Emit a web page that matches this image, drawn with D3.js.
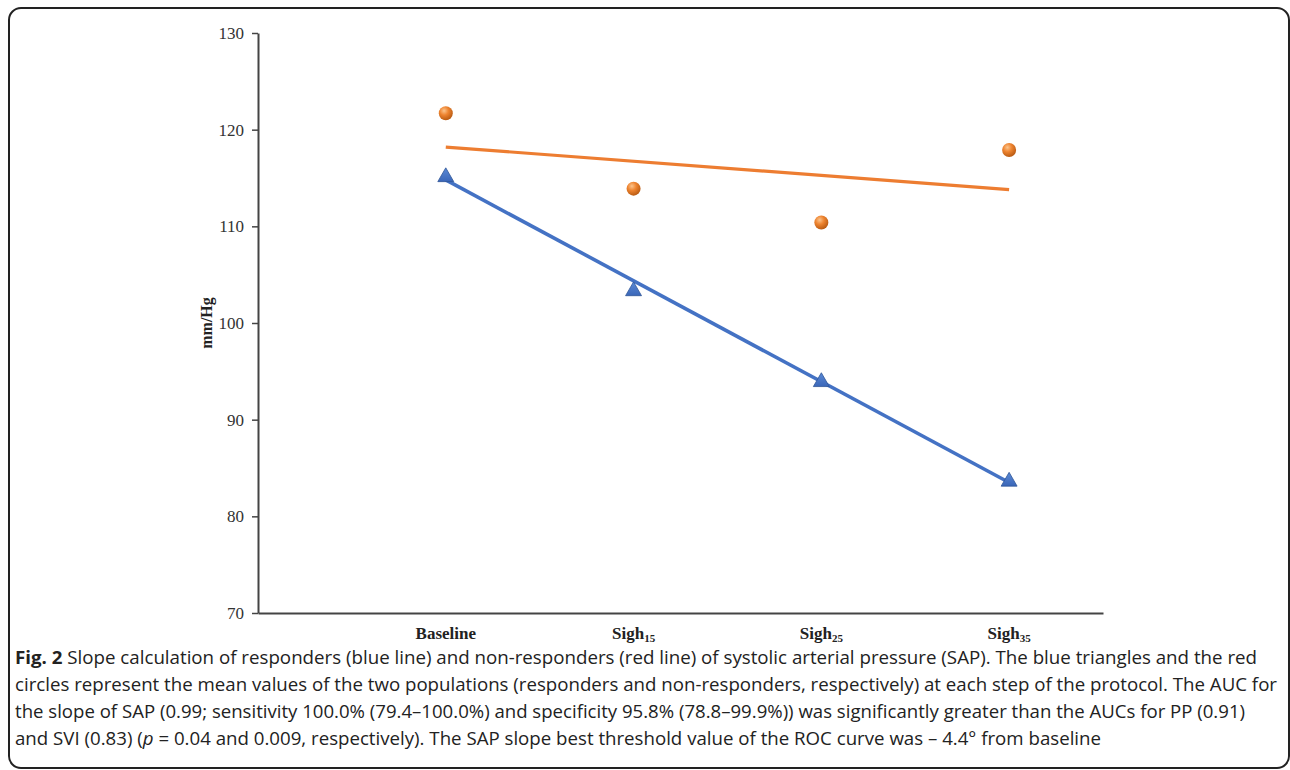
<!DOCTYPE html>
<html>
<head>
<meta charset="utf-8">
<script src="https://cdn.jsdelivr.net/npm/d3@7"></script>
<style>
  body { margin: 0; background: #fff; }
  svg { display: block; }
</style>
</head>
<body>
<div id="chart"></div>
<script>
// categories along the protocol, with their subscripts
var categories = ["Baseline", "Sigh", "Sigh", "Sigh"];
var subscripts = ["", "15", "25", "35"];

// mean SAP values
var responders = [115.1, 103.3, 93.9, 83.6];      // blue triangles
var nonResponders = [121.7, 113.9, 110.4, 117.9]; // orange circles

// trend line ends (Baseline, Sigh35)
var respTrend = [114.8, 83.5];
var nonRespTrend = [118.2, 113.8];

var yTicks = [70, 80, 90, 100, 110, 120, 130];

var captionLines = [
  [{t: "Fig. 2", b: true}, {t: " Slope calculation of responders (blue line) and non-responders (red line) of systolic arterial pressure (SAP). The blue triangles and the red"}],
  [{t: "circles represent the mean values of the two populations (responders and non-responders, respectively) at each step of the protocol. The AUC for"}],
  [{t: "the slope of SAP (0.99; sensitivity 100.0% (79.4\u2013100.0%) and specificity 95.8% (78.8\u201399.9%)) was significantly greater than the AUCs for PP (0.91)"}],
  [{t: "and SVI (0.83) ("}, {t: "p", i: true}, {t: " = 0.04 and 0.009, respectively). The SAP slope best threshold value of the ROC curve was \u2013 4.4\u00b0 from baseline"}]
];
var captionWidths = [1242, 1262, 1230, 1086];

var W = 1290, H = 770;
var svg = d3.select("#chart").append("svg")
    .attr("width", W)
    .attr("height", H);

// frame round the figure
svg.append("rect")
    .attr("x", 9).attr("y", 8)
    .attr("width", 1280).attr("height", 760)
    .attr("rx", 12)
    .attr("fill", "none")
    .attr("stroke", "#222")
    .attr("stroke-width", 2);

var x = d3.scaleLinear().domain([-1, 3.5]).range([258, 1103]);
var y = d3.scaleLinear().domain([70, 130]).range([613, 33]);

var defs = svg.append("defs");
var ball = defs.append("radialGradient").attr("id", "ball")
    .attr("cx", "38%").attr("cy", "32%").attr("r", "70%");
ball.append("stop").attr("offset", "0%").attr("stop-color", "#fbc48c");
ball.append("stop").attr("offset", "45%").attr("stop-color", "#ee8430");
ball.append("stop").attr("offset", "100%").attr("stop-color", "#b85a12");
var tri = defs.append("linearGradient").attr("id", "tri")
    .attr("x1", 0).attr("y1", 0).attr("x2", 0).attr("y2", 1);
tri.append("stop").attr("offset", "0%").attr("stop-color", "#5b8ad6");
tri.append("stop").attr("offset", "100%").attr("stop-color", "#3a66b8");

// y axis
var yAxis = svg.append("g")
    .attr("transform", "translate(" + x(-1) + ",0)")
    .call(d3.axisLeft(y).tickValues(yTicks).tickSize(6).tickPadding(8).tickSizeOuter(0));
yAxis.select(".domain").attr("stroke", "#444").attr("stroke-width", 2);
yAxis.selectAll(".tick line").attr("stroke", "#444").attr("stroke-width", 1.5);
yAxis.selectAll(".tick text")
    .attr("font-family", "'Liberation Serif', 'Times New Roman', serif")
    .attr("font-size", 17)
    .attr("fill", "#333");

// x axis line
var xAxis = svg.append("g")
    .attr("transform", "translate(0," + y(70) + ")")
    .call(d3.axisBottom(x).tickValues([]).tickSizeOuter(0));
xAxis.select(".domain").attr("stroke", "#444").attr("stroke-width", 2);

// category labels
var catLabels = svg.append("g").selectAll("text")
    .data(categories)
    .join("text")
    .attr("x", function(d, i) { return x(i); })
    .attr("y", 639)
    .attr("text-anchor", "middle")
    .attr("font-family", "'Liberation Serif', 'Times New Roman', serif")
    .attr("font-weight", "bold")
    .attr("font-size", 17)
    .attr("fill", "#222");
catLabels.append("tspan").text(function(d) { return d; });
catLabels.append("tspan")
    .attr("dy", 3)
    .attr("font-size", 11)
    .text(function(d, i) { return subscripts[i]; });

// y axis title
svg.append("text")
    .attr("transform", "translate(212,323) rotate(-90)")
    .attr("text-anchor", "middle")
    .attr("font-family", "'Liberation Serif', 'Times New Roman', serif")
    .attr("font-weight", "bold")
    .attr("font-size", 16)
    .attr("fill", "#222")
    .text("mm/Hg");

// trend lines
var line = d3.line()
    .x(function(d) { return x(d[0]); })
    .y(function(d) { return y(d[1]); });

svg.append("path")
    .datum([[0, nonRespTrend[0]], [3, nonRespTrend[1]]])
    .attr("d", line)
    .attr("stroke", "#ed7d31")
    .attr("stroke-width", 3.2)
    .attr("fill", "none");

svg.append("path")
    .datum([[0, respTrend[0]], [3, respTrend[1]]])
    .attr("d", line)
    .attr("stroke", "#4472c4")
    .attr("stroke-width", 3.6)
    .attr("fill", "none");

// orange circles
svg.append("g").selectAll("circle")
    .data(nonResponders)
    .join("circle")
    .attr("cx", function(d, i) { return x(i); })
    .attr("cy", function(d) { return y(d); })
    .attr("r", 7)
    .attr("fill", "url(#ball)");

// blue triangles
var triangle = d3.symbol().type(d3.symbolTriangle).size(110);
svg.append("g").selectAll("path")
    .data(responders)
    .join("path")
    .attr("transform", function(d, i) { return "translate(" + x(i) + "," + y(d) + ")"; })
    .attr("d", triangle)
    .attr("fill", "url(#tri)")
    .attr("stroke", "#2f5597")
    .attr("stroke-width", 0.8);

// caption
var cap = svg.append("g").selectAll("text")
    .data(captionLines)
    .join("text")
    .attr("x", 15)
    .attr("y", function(d, i) { return 664 + i * 27; })
    .attr("font-family", "'Open Sans', sans-serif")
    .attr("font-size", 17.5)
    .attr("fill", "#222")
    .attr("textLength", function(d, i) { return captionWidths[i]; })
    .attr("lengthAdjust", "spacingAndGlyphs");
cap.selectAll("tspan")
    .data(function(d) { return d; })
    .join("tspan")
    .attr("font-weight", function(d) { return d.b ? "bold" : null; })
    .attr("font-style", function(d) { return d.i ? "italic" : null; })
    .text(function(d) { return d.t; });
</script>
</body>
</html>
